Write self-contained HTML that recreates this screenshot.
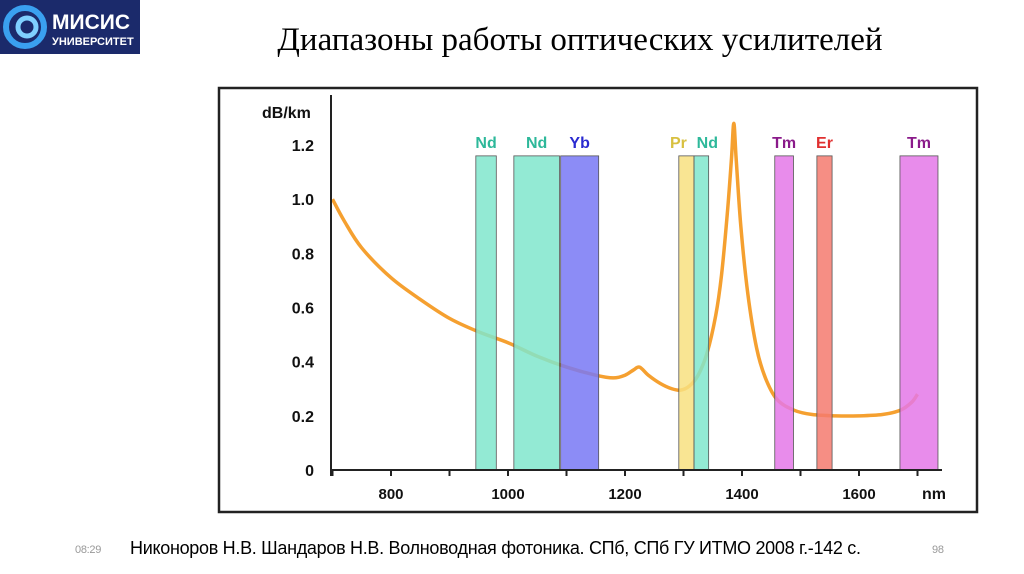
<!DOCTYPE html>
<html><head><meta charset="utf-8">
<style>
body{margin:0;width:1024px;height:574px;background:#fff;overflow:hidden;position:relative;font-family:"Liberation Sans",sans-serif}
.logo{position:absolute;left:0;top:0;width:140px;height:54px;background:#1b2a6b}
.title{position:absolute;left:0;width:1160px;top:22px;text-align:center;font-family:"Liberation Serif",serif;font-size:33px;color:#000}
.foot{position:absolute;top:538px;font-size:18px;color:#000;letter-spacing:-0.3px}
</style></head><body>
<div class="logo">
<svg width="140" height="54">
<circle cx="25" cy="27" r="19" fill="none" stroke="#3aa0f0" stroke-width="6"/>
<circle cx="27" cy="27" r="9" fill="none" stroke="#7fd0ff" stroke-width="5"/>
<text x="52" y="29" fill="#fff" font-size="21" font-weight="bold" font-family="Liberation Sans">МИСИС</text>
<text x="52" y="45" fill="#fff" font-size="11" font-weight="bold" font-family="Liberation Sans">УНИВЕРСИТЕТ</text>
</svg></div>
<div class="title">Диапазоны работы оптических усилителей</div>
<svg id="chart" width="1024" height="574" style="position:absolute;left:0;top:0"></svg>
<div class="foot" style="left:75px;top:544px;font-size:11px;color:#999">08:29</div>
<div class="foot" style="left:130px">Никоноров Н.В. Шандаров Н.В. Волноводная фотоника. СПб, СПб ГУ ИТМО 2008 г.-142 с.</div>
<div class="foot" style="left:932px;top:544px;font-size:11px;color:#999">98</div>
<script>
const xTicks=[800,1000,1200,1400,1600];
const yTicks=[0,0.2,0.4,0.6,0.8,1.0,1.2];
const yTickLabels=["0","0.2","0.4","0.6","0.8","1.0","1.2"];
const bandNames=["Nd","Nd","Yb","Pr","Nd","Tm","Er","Tm"];
const bandStart=[945,1010,1090,1292,1318,1456,1528,1670];
const bandEnd=[980,1088,1155,1318,1343,1488,1554,1735];
const bandTop=1.16;
const curveX=[700,720,750,800,850,900,950,1000,1050,1100,1150,1180,1200,1215,1225,1240,1260,1280,1295,1310,1325,1340,1355,1365,1375,1382,1386,1390,1398,1410,1425,1440,1460,1490,1520,1560,1600,1640,1670,1690,1700];
const curveY=[1.0,0.92,0.82,0.71,0.63,0.56,0.51,0.47,0.42,0.38,0.35,0.34,0.35,0.37,0.38,0.35,0.32,0.3,0.295,0.31,0.35,0.43,0.57,0.72,0.95,1.15,1.28,1.15,0.9,0.65,0.45,0.34,0.26,0.22,0.205,0.2,0.2,0.205,0.22,0.25,0.28];
const fills={Nd:"#80e6cc",Yb:"#7878f4",Pr:"#f8e080",Tm:"#e478e8",Er:"#f47a6e"};
const lcol={Nd:"#2db89a",Yb:"#2a2ad0",Pr:"#d8c040",Tm:"#8a1a8a",Er:"#e03030"};
const X=v=>391+(v-800)*0.585, Y=v=>470-v*270.8;
const svg=document.getElementById('chart'),NS="http://www.w3.org/2000/svg";
function mk(t,a,p){const e=document.createElementNS(NS,t);for(const k in a)e.setAttribute(k,a[k]);(p||svg).appendChild(e);return e;}
const frame=mk('rect',{x:219,y:88,width:758,height:424,fill:"#fff",stroke:"#222","stroke-width":2.5});


const P=curveX.map((x,i)=>[X(x),Y(curveY[i])]);
let d="M"+P[0][0]+","+P[0][1];
for(let i=0;i<P.length-1;i++){const p0=P[Math.max(0,i-1)],p1=P[i],p2=P[i+1],p3=P[Math.min(P.length-1,i+2)];
 d+=`C${p1[0]+(p2[0]-p0[0])/6},${p1[1]+(p2[1]-p0[1])/6} ${p2[0]-(p3[0]-p1[0])/6},${p2[1]-(p3[1]-p1[1])/6} ${p2[0]},${p2[1]}`;}
const cv=mk('path',{d:d,fill:"none",stroke:"#f5a030","stroke-width":3.5,"stroke-linejoin":"round"});


bandNames.forEach((n,i)=>{
 const r=mk('rect',{x:X(bandStart[i]),y:Y(bandTop),width:X(bandEnd[i])-X(bandStart[i]),height:Y(0)-Y(bandTop),fill:fills[n],"fill-opacity":0.85,stroke:"#555","stroke-width":0.8});
 
 
 const nudge=(i===3?-8:(i===4?6:0));
 const t=mk('text',{x:(X(bandStart[i])+X(bandEnd[i]))/2+nudge,y:148,"text-anchor":"middle","font-size":16,"font-weight":"bold",fill:lcol[n]});
 t.textContent=n;
 
 
});
mk('line',{x1:331,y1:95,x2:331,y2:476,stroke:"#222","stroke-width":2});
mk('line',{x1:331,y1:470,x2:942,y2:470,stroke:"#222","stroke-width":2});
yTicks.forEach((v,i)=>{
 const t=mk('text',{x:314,y:Y(v)+6,"text-anchor":"end","font-size":16,"font-weight":"bold",fill:"#111"});
 t.textContent=yTickLabels[i];
 
 
});
for(let v=700;v<=1700;v+=100)mk('line',{x1:X(v),y1:470,x2:X(v),y2:476,stroke:"#222","stroke-width":2});
xTicks.forEach(v=>{
 const t=mk('text',{x:X(v),y:499,"text-anchor":"middle","font-size":15,"font-weight":"bold",fill:"#111"});
 t.textContent=v;
 
 
});
const yt=mk('text',{x:262,y:118,"font-size":16,"font-weight":"bold",fill:"#111"});yt.textContent="dB/km";


const xt=mk('text',{x:922,y:499,"font-size":16,"font-weight":"bold",fill:"#111"});xt.textContent="nm";


</script>
</body></html>
